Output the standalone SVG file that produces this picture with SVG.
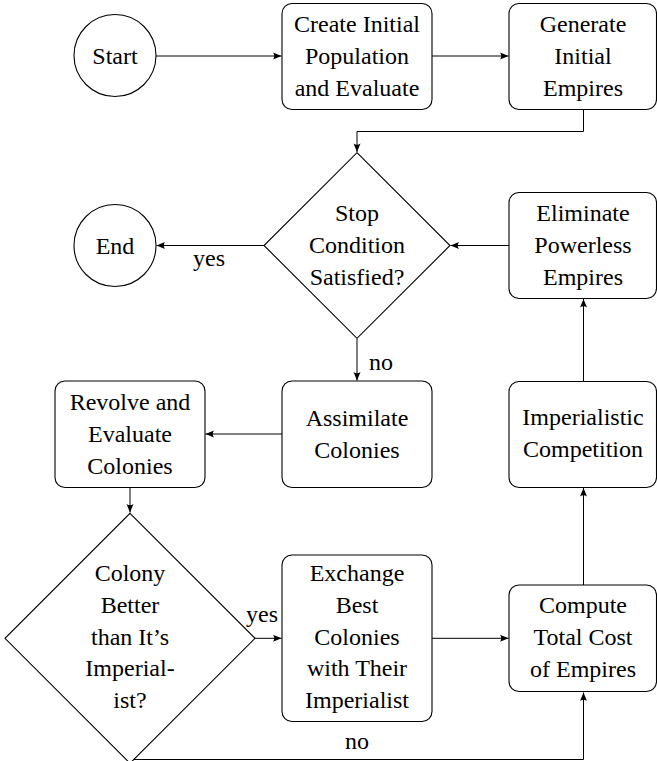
<svg xmlns="http://www.w3.org/2000/svg" width="657" height="761" viewBox="0 0 657 761">
<defs>
<marker id="ah" viewBox="-9 -4 10 8" refX="0" refY="0" markerWidth="10" markerHeight="8" markerUnits="userSpaceOnUse" orient="auto">
<path d="M0,0 L-8.5,-3.5 Q-6,0 -8.5,3.5 Z" fill="#000"/>
</marker>
</defs>
<rect width="657" height="761" fill="#fff"/>
<g id="connectors" fill="none" stroke="#000" stroke-width="1">
<path d="M156,56 L281.5,56" marker-end="url(#ah)"/>
<path d="M432,56 L508.5,56" marker-end="url(#ah)"/>
<path d="M583.5,109.5 L583.5,131.5 L357,131.5 L357,152" marker-end="url(#ah)"/>
<path d="M264,245.5 L156.5,245.5" marker-end="url(#ah)"/>
<path d="M509,245.5 L450.5,245.5" marker-end="url(#ah)"/>
<path d="M357,338.5 L357,380.5" marker-end="url(#ah)"/>
<path d="M282,434 L205.5,434" marker-end="url(#ah)"/>
<path d="M130,487.5 L130,512.5" marker-end="url(#ah)"/>
<path d="M255,638.3 L281.5,638.3" marker-end="url(#ah)"/>
<path d="M432,638.3 L508.5,638.3" marker-end="url(#ah)"/>
<path d="M583.5,585 L583.5,488" marker-end="url(#ah)"/>
<path d="M583.5,381.5 L583.5,299" marker-end="url(#ah)"/>
<path d="M130,759.5 L583.5,759.5 L583.5,692.5" marker-end="url(#ah)"/>
</g>
<g id="labels" font-family="Liberation Serif" font-size="24" text-anchor="middle" fill="#000">
<text x="209" y="266">yes</text>
<text x="381" y="370">no</text>
<text x="262" y="622">yes</text>
<text x="357" y="749">no</text>
</g>
<g id="start">
<circle cx="115" cy="55.5" r="41" fill="#fff" stroke="#000" stroke-width="1.1"/>
<text font-family="Liberation Serif" font-size="24" text-anchor="middle" x="115" y="64">Start</text>
</g>
<g id="create">
<rect x="282" y="3.5" width="150" height="106" rx="10" fill="#fff" stroke="#000" stroke-width="1.1"/>
<text font-family="Liberation Serif" font-size="24" text-anchor="middle" x="357" y="32">Create Initial</text>
<text font-family="Liberation Serif" font-size="24" text-anchor="middle" x="357" y="64">Population</text>
<text font-family="Liberation Serif" font-size="24" text-anchor="middle" x="357" y="96">and Evaluate</text>
</g>
<g id="generate">
<rect x="509" y="3.5" width="147.5" height="106" rx="10" fill="#fff" stroke="#000" stroke-width="1.1"/>
<text font-family="Liberation Serif" font-size="24" text-anchor="middle" x="583" y="32">Generate</text>
<text font-family="Liberation Serif" font-size="24" text-anchor="middle" x="583" y="64">Initial</text>
<text font-family="Liberation Serif" font-size="24" text-anchor="middle" x="583" y="96">Empires</text>
</g>
<g id="stop">
<polygon points="357,152.7 450,245.5 357,338.3 264,245.5" fill="#fff" stroke="#000" stroke-width="1.1"/>
<text font-family="Liberation Serif" font-size="24" text-anchor="middle" x="357" y="221">Stop</text>
<text font-family="Liberation Serif" font-size="24" text-anchor="middle" x="357" y="253">Condition</text>
<text font-family="Liberation Serif" font-size="24" text-anchor="middle" x="357" y="285">Satisfied?</text>
</g>
<g id="end">
<circle cx="115" cy="245.5" r="41" fill="#fff" stroke="#000" stroke-width="1.1"/>
<text font-family="Liberation Serif" font-size="24" text-anchor="middle" x="115" y="254">End</text>
</g>
<g id="eliminate">
<rect x="509" y="192.5" width="147.5" height="106" rx="10" fill="#fff" stroke="#000" stroke-width="1.1"/>
<text font-family="Liberation Serif" font-size="24" text-anchor="middle" x="583" y="221">Eliminate</text>
<text font-family="Liberation Serif" font-size="24" text-anchor="middle" x="583" y="253">Powerless</text>
<text font-family="Liberation Serif" font-size="24" text-anchor="middle" x="583" y="285">Empires</text>
</g>
<g id="revolve">
<rect x="55" y="381" width="150" height="106.5" rx="10" fill="#fff" stroke="#000" stroke-width="1.1"/>
<text font-family="Liberation Serif" font-size="24" text-anchor="middle" x="130" y="410">Revolve and</text>
<text font-family="Liberation Serif" font-size="24" text-anchor="middle" x="130" y="442">Evaluate</text>
<text font-family="Liberation Serif" font-size="24" text-anchor="middle" x="130" y="474">Colonies</text>
</g>
<g id="assimilate">
<rect x="282" y="381" width="150" height="106.5" rx="10" fill="#fff" stroke="#000" stroke-width="1.1"/>
<text font-family="Liberation Serif" font-size="24" text-anchor="middle" x="357" y="426">Assimilate</text>
<text font-family="Liberation Serif" font-size="24" text-anchor="middle" x="357" y="458">Colonies</text>
</g>
<g id="imperialistic">
<rect x="509" y="381.5" width="147.5" height="106" rx="10" fill="#fff" stroke="#000" stroke-width="1.1"/>
<text font-family="Liberation Serif" font-size="24" text-anchor="middle" x="583" y="425">Imperialistic</text>
<text font-family="Liberation Serif" font-size="24" text-anchor="middle" x="583" y="457">Competition</text>
</g>
<g id="colony">
<polygon points="130,513.3 255,638.3 130,763.3 5,638.3" fill="#fff" stroke="#000" stroke-width="1.1"/>
<text font-family="Liberation Serif" font-size="24" text-anchor="middle" x="130" y="581">Colony</text>
<text font-family="Liberation Serif" font-size="24" text-anchor="middle" x="130" y="613">Better</text>
<text font-family="Liberation Serif" font-size="24" text-anchor="middle" x="130" y="644.5">than It&#8217;s</text>
<text font-family="Liberation Serif" font-size="24" text-anchor="middle" x="130" y="676">Imperial-</text>
<text font-family="Liberation Serif" font-size="24" text-anchor="middle" x="130" y="708">ist?</text>
</g>
<g id="exchange">
<rect x="282" y="555" width="150" height="166.5" rx="10" fill="#fff" stroke="#000" stroke-width="1.1"/>
<text font-family="Liberation Serif" font-size="24" text-anchor="middle" x="357" y="581">Exchange</text>
<text font-family="Liberation Serif" font-size="24" text-anchor="middle" x="357" y="613">Best</text>
<text font-family="Liberation Serif" font-size="24" text-anchor="middle" x="357" y="644.5">Colonies</text>
<text font-family="Liberation Serif" font-size="24" text-anchor="middle" x="357" y="676">with Their</text>
<text font-family="Liberation Serif" font-size="24" text-anchor="middle" x="357" y="708">Imperialist</text>
</g>
<g id="compute">
<rect x="509" y="585" width="147.5" height="106.5" rx="10" fill="#fff" stroke="#000" stroke-width="1.1"/>
<text font-family="Liberation Serif" font-size="24" text-anchor="middle" x="583" y="613">Compute</text>
<text font-family="Liberation Serif" font-size="24" text-anchor="middle" x="583" y="645">Total Cost</text>
<text font-family="Liberation Serif" font-size="24" text-anchor="middle" x="583" y="676.5">of Empires</text>
</g>
</svg>
